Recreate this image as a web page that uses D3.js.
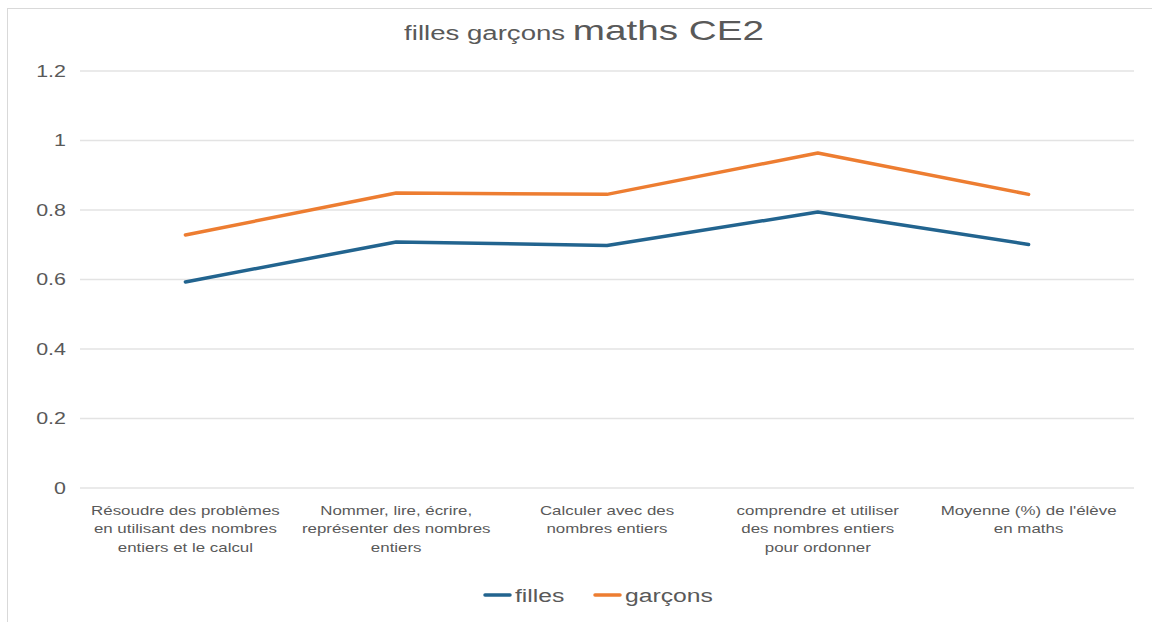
<!DOCTYPE html>
<html>
<head>
<meta charset="utf-8">
<script src="https://cdn.jsdelivr.net/npm/d3@7"></script>
<style>
  body { margin: 0; background: #fff; }
  text { font-family: "Liberation Sans", Arial, sans-serif; fill: #595959; }
</style>
</head>
<body>
<div id="chart"></div>
<script>
// categories + series
const categories = [
  ["Résoudre des problèmes", "en utilisant des nombres", "entiers et le calcul"],
  ["Nommer, lire, écrire,", "représenter des nombres", "entiers"],
  ["Calculer avec des", "nombres entiers"],
  ["comprendre et utiliser", "des nombres entiers", "pour ordonner"],
  ["Moyenne (%) de l'élève", "en maths"]
];
const filles = [0.593, 0.708, 0.698, 0.794, 0.701];
const garcons = [0.728, 0.849, 0.845, 0.964, 0.845];
const yTicks = [0, 0.2, 0.4, 0.6, 0.8, 1, 1.2];
const seriesNames = ["filles", "garçons"];

var width = 1152
var height = 622
var mLeft = 80, mRight = 1134, mTop = 71, mBottom = 488
var sx = 1.3   // the original text is drawn wide

var svg = d3.select("#chart").append("svg")
  .attr("width", width)
  .attr("height", height)

// chart border
svg.append("rect")
  .attr("x", 7.5).attr("y", 8.5)
  .attr("width", width).attr("height", height)
  .attr("fill", "none")
  .attr("stroke", "#d9d9d9")

var x = d3.scaleBand().domain(d3.range(categories.length)).range([mLeft, mRight])
var y = d3.scaleLinear().domain([0, 1.2]).range([mBottom, mTop])

// gridlines
svg.append("g").selectAll("line")
  .data(yTicks).enter().append("line")
    .attr("x1", mLeft).attr("x2", mRight)
    .attr("y1", d => y(d)).attr("y2", d => y(d))
    .attr("stroke", "#e3e3e3")
    .attr("stroke-width", 1.5)

// y axis labels
var yAxis = d3.axisLeft(y).tickValues(yTicks).tickSize(0).tickPadding(0).tickFormat(d => String(d))
var ya = svg.append("g").attr("transform", "translate(" + (mLeft - 14) + ",0)").call(yAxis)
ya.select(".domain").remove()
ya.selectAll("text")
  .attr("x", 0)
  .attr("transform", "scale(" + sx + ",1)")
  .attr("fill", "#595959")
  .style("font-size", "16.5px")
  .style("font-family", '"Liberation Sans", Arial, sans-serif')

// category labels
var cx = i => x(i) + x.bandwidth() / 2
var cat = svg.append("g").selectAll("g")
  .data(categories).enter().append("g")
    .attr("transform", (d, i) => "translate(" + cx(i) + ",515) scale(" + sx + ",1)")
  .append("text")
    .attr("text-anchor", "middle")
    .style("font-size", "13px")
cat.selectAll("tspan")
  .data(d => d)
  .enter().append("tspan")
    .attr("x", 0)
    .attr("dy", (d, j) => j == 0 ? 0 : 18.5)
    .text(d => d)

// lines
var colors = ["#22648f", "#ed7d31"]
var line = d3.line().x((d, i) => cx(i)).y(d => y(d))
;[filles, garcons].forEach(function(s, k) {
  svg.append("path")
    .datum(s)
    .attr("d", line)
    .attr("fill", "none")
    .attr("stroke", colors[k])
    .attr("stroke-width", 3.5)
    .attr("stroke-linejoin", "round")
    .attr("stroke-linecap", "round")
})

// title
var title = svg.append("g").attr("transform", "translate(584,40) scale(1.38,1)")
  .append("text")
  .attr("text-anchor", "middle")
  .attr("fill", "#595959")
title.append("tspan").style("font-size", "20px").text("filles garçons ")
title.append("tspan").style("font-size", "28px").text("maths CE2")

// legend
var legX = [485, 595]
seriesNames.forEach(function(n, k) {
  var g = svg.append("g").attr("transform", "translate(" + legX[k] + ",595)")
  g.append("line").attr("x1", 0).attr("x2", 25).attr("y1", 0).attr("y2", 0)
    .attr("stroke", colors[k]).attr("stroke-width", 3.5).attr("stroke-linecap", "round")
  g.append("text").attr("transform", "translate(30,7) scale(" + sx + ",1)")
    .style("font-size", "19px").text(n)
})
</script>
</body>
</html>
